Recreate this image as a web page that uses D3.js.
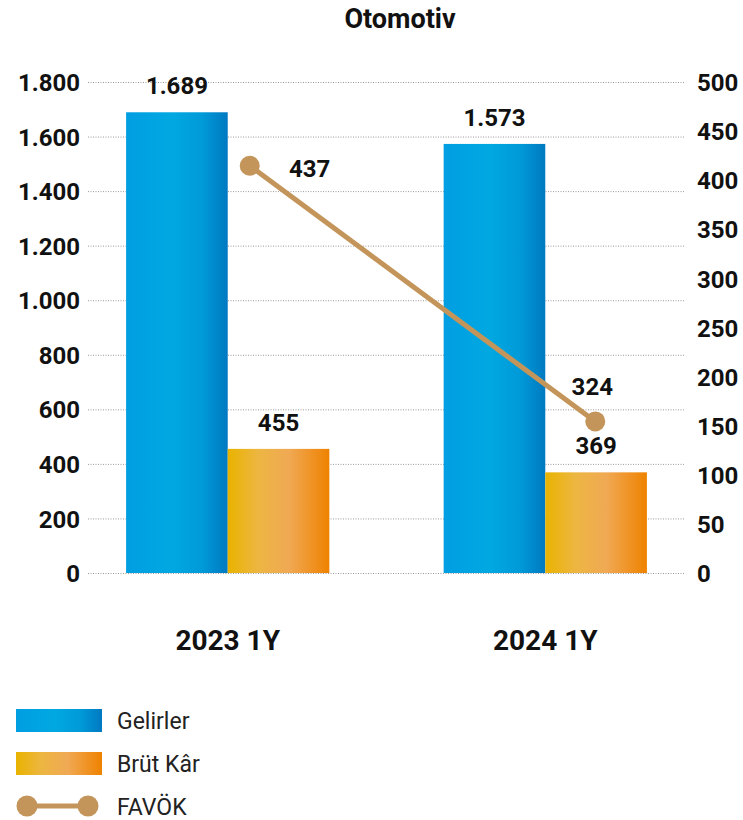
<!DOCTYPE html>
<html>
<head>
<meta charset="utf-8">
<script src="https://cdn.jsdelivr.net/npm/d3@7"></script>
<style>
	body { margin: 0; background: #fff; }
	text { font-family: Roboto, sans-serif; fill: #111; }
</style>
</head>
<body>
<div id="chart"></div>
<script>
const categories = ["2023 1Y", "2024 1Y"];
const gelirler = [1689, 1573];
const brutKar = [455, 369];
const favok = [437, 324];
const leftTicks = [0, 200, 400, 600, 800, 1000, 1200, 1400, 1600, 1800];
const rightTicks = [0, 50, 100, 150, 200, 250, 300, 350, 400, 450, 500];
const seriesNames = ["Gelirler", "Brüt Kâr", "FAVÖK"];

const width = 743, height = 820;
const plot = { left: 88, right: 685, top: 82, bottom: 573 };

const tr = d3.formatLocale({ decimal: ",", thousands: ".", grouping: [3], currency: ["", " TL"] });
const fmt = tr.format(",d");

const svg = d3.select("#chart").append("svg")
	.attr("width", width)
	.attr("height", height);

const defs = svg.append("defs");
function gradient(id, stops) {
	const g = defs.append("linearGradient").attr("id", id)
		.attr("x1", "0%").attr("x2", "100%").attr("y1", "0%").attr("y2", "0%");
	stops.forEach(function(s) {
		g.append("stop").attr("offset", s[0]).attr("stop-color", s[1]);
	});
}
gradient("blueGrad", [["0%", "#009EE2"], ["45%", "#00A8E1"], ["75%", "#009AD8"], ["100%", "#0079C1"]]);
gradient("orangeGrad", [["0%", "#E9B300"], ["30%", "#EDB642"], ["60%", "#F0A954"], ["100%", "#EF8200"]]);

const x = d3.scaleBand()
	.domain(categories)
	.range([plot.left, plot.right])
	.paddingInner(0.36)
	.paddingOuter(0.12);

const xInner = d3.scaleBand()
	.domain([0, 1])
	.range([0, x.bandwidth()]);

const yLeft = d3.scaleLinear().domain([0, 1800]).range([plot.bottom, plot.top]);
const yRight = d3.scaleLinear().domain([0, 500]).range([plot.bottom, plot.top]);
// FAVÖK line sits on its own (hidden) scale in the original graphic
const yLine = d3.scaleLinear().domain([257, 474]).range([plot.bottom, plot.top]);

// title
svg.append("text")
	.attr("x", 400).attr("y", 28)
	.attr("text-anchor", "middle")
	.style("font-size", "27px").style("font-weight", 700)
	.text("Otomotiv");

// gridlines
svg.append("g").selectAll("line")
	.data(leftTicks)
	.enter().append("line")
	.attr("x1", plot.left).attr("x2", plot.right)
	.attr("y1", function(d) { return yLeft(d) + 0.5; })
	.attr("y2", function(d) { return yLeft(d) + 0.5; })
	.attr("stroke", "#9a9a9a")
	.attr("stroke-width", 1)
	.attr("stroke-dasharray", "1,1.5");

const leftAxis = svg.append("g")
	.attr("transform", "translate(80,0)")
	.call(d3.axisLeft(yLeft).tickValues(leftTicks).tickFormat(fmt).tickSize(0).tickPadding(0));
const rightAxis = svg.append("g")
	.attr("transform", "translate(697,0)")
	.call(d3.axisRight(yRight).tickValues(rightTicks).tickFormat(fmt).tickSize(0).tickPadding(0));
[leftAxis, rightAxis].forEach(function(a) {
	a.select(".domain").remove();
	a.selectAll("text")
		.attr("fill", "#111")
		.attr("dy", "0.36em")
		.style("font-family", "Roboto, sans-serif")
		.style("font-size", "24px")
		.style("font-weight", 700);
});

// bars
const groups = svg.append("g").selectAll("g")
	.data(categories)
	.enter().append("g")
	.attr("transform", function(d) { return "translate(" + x(d) + ",0)"; });

const barData = function(d, i) {
	return [
		{ key: 0, value: gelirler[i], fill: "url(#blueGrad)" },
		{ key: 1, value: brutKar[i], fill: "url(#orangeGrad)" }
	];
};

groups.selectAll("rect")
	.data(barData)
	.enter().append("rect")
	.attr("x", function(d) { return xInner(d.key); })
	.attr("width", xInner.bandwidth())
	.attr("y", function(d) { return yLeft(d.value); })
	.attr("height", function(d) { return plot.bottom - yLeft(d.value); })
	.attr("fill", function(d) { return d.fill; });

groups.selectAll("text.val")
	.data(barData)
	.enter().append("text")
	.attr("class", "val")
	.attr("x", function(d) { return xInner(d.key) + xInner.bandwidth() / 2; })
	.attr("y", function(d) { return yLeft(d.value) - 18; })
	.attr("text-anchor", "middle")
	.style("font-size", "24px").style("font-weight", 700)
	.text(function(d) { return fmt(d.value); });

// category labels
svg.append("g").selectAll("text")
	.data(categories)
	.enter().append("text")
	.attr("x", function(d) { return x(d) + x.bandwidth() / 2; })
	.attr("y", 650)
	.attr("text-anchor", "middle")
	.style("font-size", "28px").style("font-weight", 700)
	.text(function(d) { return d; });

// FAVÖK line
const lineX = function(d, i) { return x(categories[i]) + xInner(1) + (i === 0 ? 22 : 50); };
const line = d3.line()
	.x(function(d, i) { return lineX(d, i); })
	.y(function(d) { return yLine(d); });

svg.append("path")
	.datum(favok)
	.attr("d", line)
	.attr("fill", "none")
	.attr("stroke", "#C4955A")
	.attr("stroke-width", 5);

svg.append("g").selectAll("circle")
	.data(favok)
	.enter().append("circle")
	.attr("cx", lineX)
	.attr("cy", function(d) { return yLine(d); })
	.attr("r", 10)
	.attr("fill", "#C4955A");

svg.append("g").selectAll("text")
	.data(favok)
	.enter().append("text")
	.attr("x", function(d, i) { return lineX(d, i) + (i === 0 ? 60 : -3); })
	.attr("y", function(d, i) { return yLine(d) + (i === 0 ? 11 : -26); })
	.attr("text-anchor", "middle")
	.style("font-size", "24px").style("font-weight", 700)
	.text(function(d) { return fmt(d); });

// legend
const legend = svg.append("g").attr("transform", "translate(16,709)");
const legendItems = legend.selectAll("g")
	.data(seriesNames)
	.enter().append("g")
	.attr("transform", function(d, i) { return "translate(0," + (i * 43) + ")"; });

legendItems.filter(function(d, i) { return i < 2; })
	.append("rect")
	.attr("width", 86).attr("height", 23)
	.attr("fill", function(d, i) { return i === 0 ? "url(#blueGrad)" : "url(#orangeGrad)"; });

const favokItem = legendItems.filter(function(d, i) { return i === 2; });
favokItem.append("line")
	.attr("x1", 11).attr("x2", 72).attr("y1", 11).attr("y2", 11)
	.attr("stroke", "#C4955A").attr("stroke-width", 5);
favokItem.selectAll("circle")
	.data([11, 72])
	.enter().append("circle")
	.attr("cx", function(d) { return d; }).attr("cy", 11).attr("r", 10.5)
	.attr("fill", "#C4955A");

legendItems.append("text")
	.attr("x", 101)
	.attr("y", 20)
	.style("font-size", "23px")
	.style("fill", "#222")
	.text(function(d) { return d; });
</script>
</body>
</html>
